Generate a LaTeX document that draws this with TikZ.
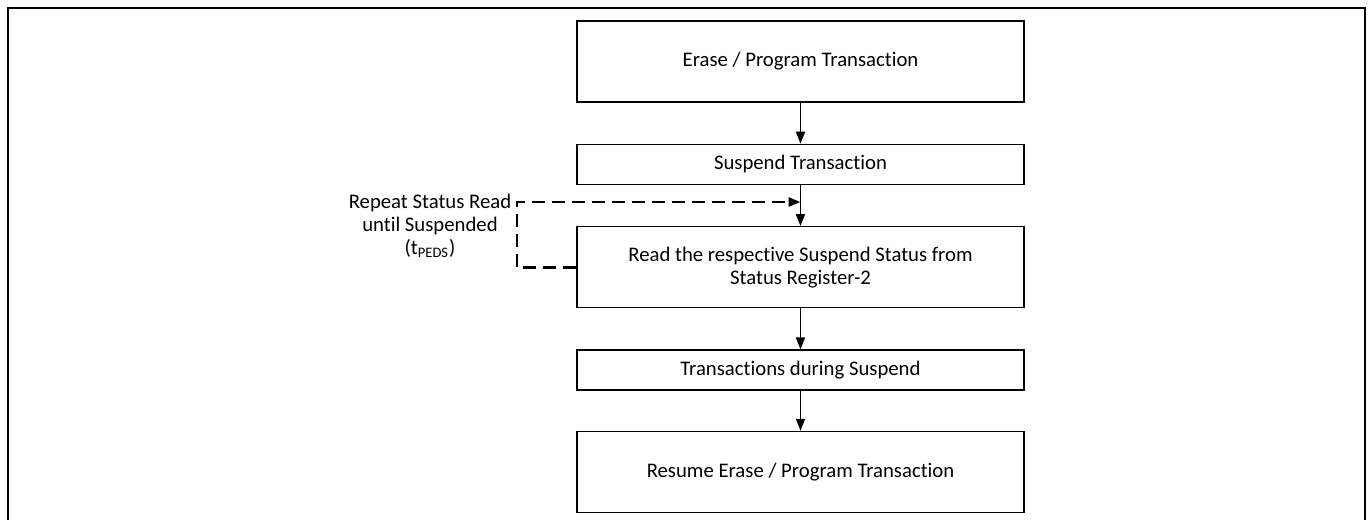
\documentclass[tikz,border=0pt]{standalone}
\usepackage{fontspec}
\setmainfont[Ligatures=NoCommon]{Carlito}
\usetikzlibrary{positioning,arrows.meta}
\begin{document}
\begin{tikzpicture}[x=0.02cm,y=-0.02cm,
    font=\fontsize{11.8}{13.1}\selectfont,
    stepbox/.style={rectangle,draw,line width=0.8pt,minimum width=8.94cm,minimum height=1.62cm,align=center,inner sep=0pt},
    thinbox/.style={stepbox,minimum height=0.8cm},
    flow/.style={line width=0.9pt,-{Triangle[length=0.24cm,width=0.18cm]}},
    loopline/.style={flow,line width=1.5pt,dash pattern=on 0.26cm off 0.14cm}]
  \useasboundingbox (0,0) rectangle (1369,520);
  \draw[line width=1.2pt] (8,520) -- (8,8) -- (1365,8) -- (1365,520);
  \node[stepbox] (ep) at (800.5,61.5) {Erase / Program Transaction};
  \node[thinbox,below=0.82cm of ep] (sp) {Suspend Transaction};
  \node[stepbox,below=0.82cm of sp] (rd) {Read the respective Suspend Status from\\Status Register-2};
  \node[thinbox,below=0.82cm of rd] (ds) {Transactions during Suspend};
  \node[stepbox,below=0.8cm of ds] (rs) {Resume Erase / Program Transaction};
  \draw[flow] (ep) -- (sp);
  \draw[flow] (sp) -- (rd);
  \draw[flow] (rd) -- (ds);
  \draw[flow] (ds) -- (rs);
  % polling loop
  \coordinate (lp) at (517,202);
  \node[align=center] (rep) at (430,226) {Repeat Status Read\\until Suspended\\(t\textsubscript{PEDS})};
  \draw[loopline] (rd.west) -| (lp) -- (lp -| sp.south);
\end{tikzpicture}
\end{document}
